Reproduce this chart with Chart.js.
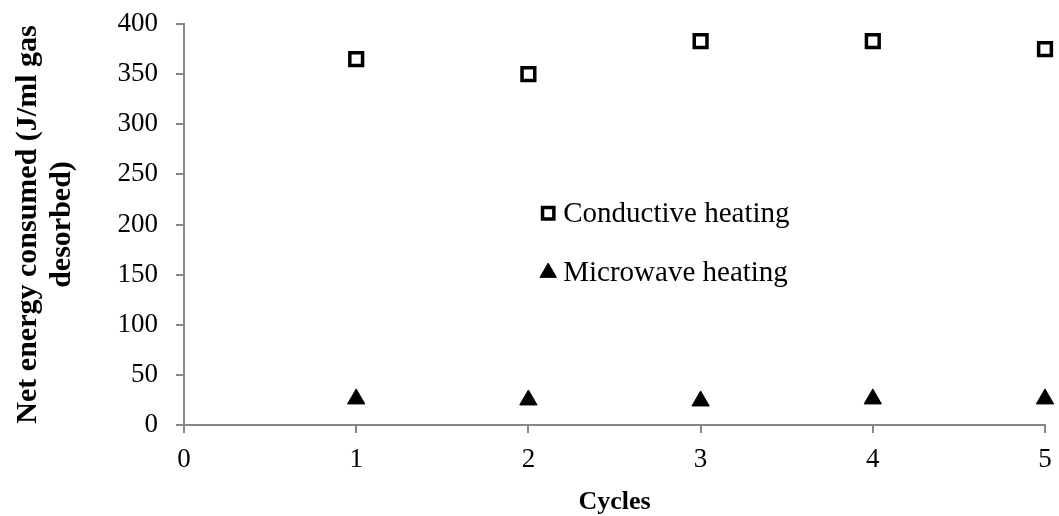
<!DOCTYPE html>
<html>
<head>
<meta charset="utf-8">
<script src="https://cdn.jsdelivr.net/npm/chart.js@4/dist/chart.umd.min.js"></script>
<style>
  html, body { margin: 0; padding: 0; background: #fff; }
  #wrap { width: 1059px; height: 516px; }
</style>
</head>
<body>
<div id="wrap"><canvas id="c" width="1059" height="516"></canvas></div>
<script>
// Energy use per desorption cycle
const cycles = [1, 2, 3, 4, 5];
const conductive = [365, 350, 383, 383, 375];
const microwave = [26, 25, 24, 26, 26];
const xTicks = [0, 1, 2, 3, 4, 5];
const yTicks = [0, 50, 100, 150, 200, 250, 300, 350, 400];
const seriesNames = ['Conductive heating', 'Microwave heating'];

const AXIS = '#868686';
const SERIF = '"Liberation Serif", "Times New Roman", serif';

// Legend drawn inside the plot area, stacked vertically
const innerLegend = {
  id: 'innerLegend',
  afterDraw(chart) {
    const { ctx, chartArea: a } = chart;
    const x = a.left + (a.right - a.left) * 0.423;
    const rows = [0.472, 0.62];
    ctx.save();
    ctx.font = '29px ' + SERIF;
    ctx.textBaseline = 'middle';
    ctx.textAlign = 'left';
    chart.data.datasets.forEach((ds, i) => {
      const y = a.top + (a.bottom - a.top) * rows[i];
      ctx.fillStyle = ds.backgroundColor;
      ctx.strokeStyle = ds.borderColor;
      ctx.lineWidth = ds.pointBorderWidth;
      Chart.helpers.drawPoint(ctx, {
        pointStyle: ds.pointStyle,
        radius: ds.legendRadius,
        borderWidth: ds.pointBorderWidth
      }, x, y);
      ctx.fillStyle = '#000';
      ctx.fillText(ds.label, x + 15, y + 1);
    });
    ctx.restore();
  }
};

new Chart(document.getElementById('c'), {
  type: 'scatter',
  data: {
    datasets: [
      {
        label: seriesNames[0],
        data: cycles.map((c, i) => ({ x: c, y: conductive[i] })),
        pointStyle: 'rect',
        pointRadius: 9,
        pointBorderWidth: 3.5,
        borderColor: '#000',
        backgroundColor: '#fff',
        legendRadius: 8
      },
      {
        label: seriesNames[1],
        data: cycles.map((c, i) => ({ x: c, y: microwave[i] })),
        pointStyle: 'triangle',
        pointRadius: 10,
        pointBorderWidth: 1,
        borderColor: '#000',
        backgroundColor: '#000',
        legendRadius: 9.5
      }
    ]
  },
  options: {
    responsive: false,
    animation: false,
    clip: false,
    layout: { padding: { top: 24, right: 14, left: 0, bottom: 0 } },
    plugins: {
      legend: { display: false },
      tooltip: { enabled: false }
    },
    elements: { point: { hoverRadius: 9 } },
    scales: {
      x: {
        type: 'linear',
        min: 0,
        max: 5,
        afterBuildTicks: s => { s.ticks = xTicks.map(v => ({ value: v })); },
        afterFit: s => { s.height = 91; s.paddingLeft = 0; s.paddingRight = 0; },
        grid: {
          display: true,
          drawOnChartArea: false,
          drawTicks: true,
          tickLength: 8,
          color: AXIS,
          lineWidth: 2
        },
        border: { display: true, color: AXIS, width: 2 },
        ticks: {
          color: '#000',
          padding: 11,
          font: { family: SERIF, size: 27 }
        },
        title: {
          display: true,
          text: 'Cycles',
          color: '#000',
          padding: { top: 0, bottom: -2 },
          font: { family: SERIF, size: 26, weight: 'bold' }
        }
      },
      y: {
        type: 'linear',
        min: 0,
        max: 400,
        afterBuildTicks: s => { s.ticks = yTicks.map(v => ({ value: v })); },
        afterFit: s => { s.width = 184; s.paddingTop = 0; s.paddingBottom = 0; },
        grid: {
          display: true,
          drawOnChartArea: false,
          drawTicks: true,
          tickLength: 8,
          color: AXIS,
          lineWidth: 2
        },
        border: { display: true, color: AXIS, width: 2 },
        ticks: {
          color: '#000',
          padding: 18,
          font: { family: SERIF, size: 27 }
        },
        title: {
          display: true,
          text: ['Net energy consumed (J/ml gas', 'desorbed)'],
          color: '#000',
          padding: { top: 11, bottom: 0 },
          font: { family: SERIF, size: 30, weight: 'bold', lineHeight: 1.14 }
        }
      }
    }
  },
  plugins: [innerLegend]
});
</script>
</body>
</html>
